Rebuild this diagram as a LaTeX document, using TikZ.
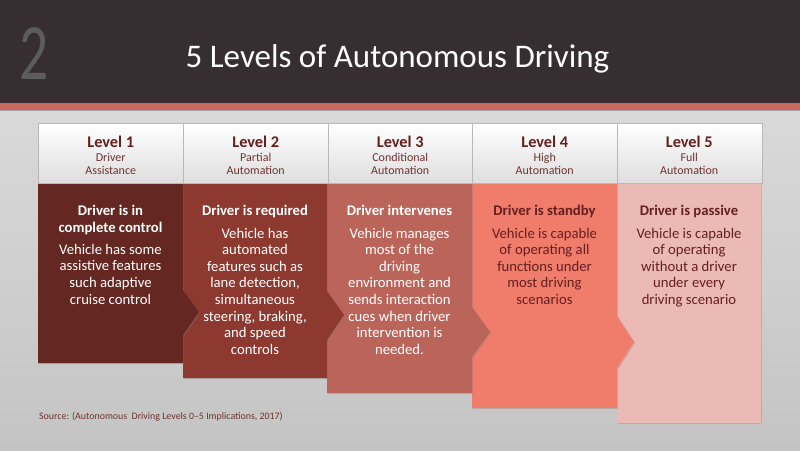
\documentclass[tikz,border=0pt]{standalone}
\usepackage{fontspec}
\usepackage{graphicx}
\setmainfont{Carlito}
\usetikzlibrary{shadows}

\definecolor{topbar}{HTML}{372E32}
\definecolor{redline}{HTML}{C9695F}
\definecolor{bgtop}{HTML}{D9D9D9}
\definecolor{bgbottom}{HTML}{C4C4C4}
\definecolor{lvlA}{HTML}{652722}
\definecolor{lvlB}{HTML}{8D392F}
\definecolor{lvlC}{HTML}{BA645A}
\definecolor{lvlD}{HTML}{F07C6C}
\definecolor{lvlE}{HTML}{ECBAB4}
\definecolor{maroon}{HTML}{651F1F}
\definecolor{subred}{HTML}{703232}

\newcommand{\lvlname}[1]{{\fontsize{16.3}{13}\selectfont\bfseries\color{maroon}#1}}

\begin{document}
\begin{tikzpicture}[x=1pt,y=-1pt]

% Define styles
\tikzset{
    hdrbox/.style={draw=black!28, line width=0.5pt, top color=white, bottom color=black!13, minimum width=145pt, minimum height=60pt, inner sep=0pt, anchor=north west, drop shadow={shadow xshift=0.8pt, shadow yshift=-0.8pt, opacity=0.25}},
    hdrtext/.style={align=center, inner sep=0pt, text=subred, font=\fontsize{12}{13}\selectfont},
    block/.style={drop shadow={shadow xshift=1.2pt, shadow yshift=-1.2pt, opacity=0.3}},
    desc/.style={align=center, inner sep=0pt, anchor=north, font=\fontsize{14.7}{16.6}\selectfont}
}

\useasboundingbox (0,0) rectangle (800,450);

% background and title bar
\fill[top color=bgtop, bottom color=bgbottom] (0,111) rectangle (800,450);
\fill[topbar] (0,0) rectangle (800,103);
\fill[redline] (0,103) rectangle (800,110);
\fill[black!35] (0,110) rectangle (800,111.2);

\node[anchor=base west, inner sep=0pt, text=black!64, font=\fontsize{80}{80}\selectfont] (slide) at (19,79) {\scalebox{0.72}[1]{2}};
\node[anchor=base, inner sep=0pt, text=white, font=\fontsize{33}{33}\selectfont] (title) at (397.5,67) {5 Levels of Autonomous Driving};

% level blocks, drawn from right to left
\fill[lvlE, block] (617,184) -- (761,184) -- (761,423) -- (617,423) -- cycle;
\fill[lvlD, block] (472,184) -- (617,184) -- (617,316) -- (634,342) -- (617,368) -- (617,408) -- (472,408) -- cycle;
\fill[lvlC, block] (327,184) -- (472,184) -- (472,307) -- (490,332) -- (472,357) -- (472,393) -- (327,393) -- cycle;
\fill[lvlB, block] (183,184) -- (327,184) -- (327,291) -- (344,315) -- (327,340) -- (327,378) -- (183,378) -- cycle;
\fill[lvlA, block] (38,184) -- (183,184) -- (183,290) -- (199,312) -- (183,335) -- (183,363) -- (38,363) -- cycle;

% header boxes
\node[hdrbox] (hdr1) at (38,123) {};
\node[hdrbox] (hdr2) at (183,123) {};
\node[hdrbox] (hdr3) at (327.5,123) {};
\node[hdrbox] (hdr4) at (472,123) {};
\node[hdrbox] (hdr5) at (616.5,123) {};

\node[hdrtext] (lvl1) at ([yshift=-2pt]hdr1.center) {\lvlname{Level 1}\\[1pt]Driver\\Assistance};
\node[hdrtext] (lvl2) at ([yshift=-2pt]hdr2.center) {\lvlname{Level 2}\\[1pt]Partial\\Automation};
\node[hdrtext] (lvl3) at ([yshift=-2pt]hdr3.center) {\lvlname{Level 3}\\[1pt]Conditional\\Automation};
\node[hdrtext] (lvl4) at ([yshift=-2pt]hdr4.center) {\lvlname{Level 4}\\[1pt]High\\Automation};
\node[hdrtext] (lvl5) at ([yshift=-2pt]hdr5.center) {\lvlname{Level 5}\\[1pt]Full\\Automation};

% descriptions
\node[desc, text=white] (desc1) at (110.5,205) {\textbf{Driver is in}\\\textbf{complete control}\\[5.5pt]Vehicle has some\\assistive features\\such adaptive\\cruise control};
\node[desc, text=white] (desc2) at (255,205) {\textbf{Driver is required}\\[6pt]Vehicle has\\automated\\features such as\\lane detection,\\simultaneous\\steering, braking,\\and speed\\controls};
\node[desc, text=white] (desc3) at (399.5,205) {\textbf{Driver intervenes}\\[6pt]Vehicle manages\\most of the\\driving\\environment and\\sends interaction\\cues when driver\\intervention is\\needed.};
\node[desc, text=maroon] (desc4) at (544.5,205) {\textbf{Driver is standby}\\[6pt]Vehicle is capable\\of operating all\\functions under\\most driving\\scenarios};
\node[desc, text=maroon] (desc5) at (689,205) {\textbf{Driver is passive}\\[6pt]Vehicle is capable\\of operating\\without a driver\\under every\\driving scenario};

% source
\node[anchor=base west, inner sep=0pt, text=subred, font=\fontsize{9.9}{11}\selectfont] (source) at (39,419) {Source: (Autonomous\ \ Driving Levels 0–5 Implications, 2017)};

\end{tikzpicture}
\end{document}
